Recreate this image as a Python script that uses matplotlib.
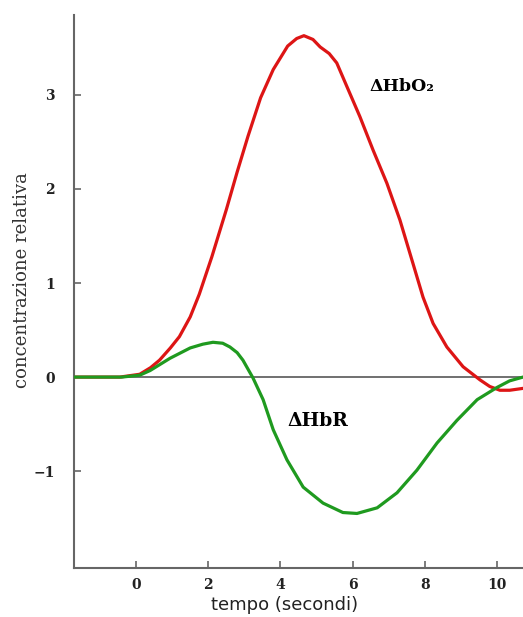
import matplotlib
matplotlib.use("Agg")
import matplotlib.pyplot as plt

# ΔHbO2 (red)
t_hbo2 = [-1.72, -0.45, 0.1, 0.4, 0.65, 0.95, 1.2, 1.5, 1.75, 2.1, 2.5, 2.8, 3.1, 3.45,
          3.8, 4.2, 4.45, 4.65, 4.9, 5.1, 5.35, 5.56, 5.84, 6.2, 6.57, 6.95, 7.31,
          7.67, 7.95, 8.23, 8.61, 9.06, 9.53, 9.8, 10.08, 10.35, 10.72]
hbo2 = [0, 0, 0.03, 0.1, 0.18, 0.31, 0.43, 0.64, 0.88, 1.28, 1.78, 2.18, 2.56, 2.97,
        3.27, 3.52, 3.6, 3.63, 3.59, 3.51, 3.44, 3.34, 3.09, 2.77, 2.41, 2.06, 1.67,
        1.21, 0.85, 0.57, 0.32, 0.11, -0.03, -0.1, -0.14, -0.14, -0.12]

# ΔHbR (green)
t_hbr = [-1.72, -0.4, 0.1, 0.39, 0.94, 1.5, 1.85, 2.13, 2.4, 2.6, 2.8, 2.96, 3.24,
         3.52, 3.8, 4.18, 4.63, 5.18, 5.73, 6.12, 6.68, 7.23, 7.78, 8.34, 8.89,
         9.45, 10.0, 10.35, 10.72]
hbr = [0, 0, 0.02, 0.07, 0.2, 0.31, 0.35, 0.37, 0.36, 0.32, 0.26, 0.18, -0.01,
       -0.24, -0.56, -0.88, -1.17, -1.34, -1.44, -1.45, -1.39, -1.23, -0.99, -0.7, -0.46,
       -0.24, -0.11, -0.04, 0.0]

xticks = [0, 2, 4, 6, 8, 10]
yticks = [-1, 0, 1, 2, 3]

fig = plt.figure(figsize=(5.23, 6.17), dpi=100)
ax = fig.add_axes([0.1415, 0.0794, 0.8585, 0.8963])

ax.axhline(0, color="#707070", lw=1.4, zorder=1)
ax.plot(t_hbo2, hbo2, color="#dd1515", lw=2.3, zorder=2, solid_joinstyle="round")
ax.plot(t_hbr, hbr, color="#1f9a1f", lw=2.3, zorder=3, solid_joinstyle="round")

ax.text(7.37, 3.09, "ΔHbO₂", family="DejaVu Serif", weight="bold", fontsize=12.5,
        ha="center", va="center")
ax.text(5.04, -0.47, "ΔHbR", family="DejaVu Serif", weight="bold", fontsize=13.5,
        ha="center", va="center")

ax.set_xlim(-1.72, 10.72)
ax.set_ylim(-2.03, 3.85)
ax.set_xticks(xticks)
ax.set_yticks(yticks)
ax.set_yticklabels(["\u22121", "0", "1", "2", "3"])

for s in ["top", "right"]:
    ax.spines[s].set_visible(False)
for s in ["left", "bottom"]:
    ax.spines[s].set_color("#666666")
    ax.spines[s].set_linewidth(1.5)

ax.tick_params(axis="both", direction="in", length=5, width=1.2, color="#666666")
ax.tick_params(axis="y", pad=14)
ax.tick_params(axis="x", pad=7)
for lab in ax.get_xticklabels() + ax.get_yticklabels():
    lab.set_family("DejaVu Serif")
    lab.set_fontweight("bold")
    lab.set_fontsize(10)
    lab.set_color("#222222")

ax.set_ylabel("concentrazione relativa", family="DejaVu Serif", fontsize=13,
              color="#333333")
ax.yaxis.set_label_coords(-0.095, 0.52)
ax.set_xlabel("tempo (secondi)", family="DejaVu Sans", fontsize=13, color="#222222")
ax.xaxis.set_label_coords(0.47, -0.05)

fig.savefig("out.png", dpi=100)
